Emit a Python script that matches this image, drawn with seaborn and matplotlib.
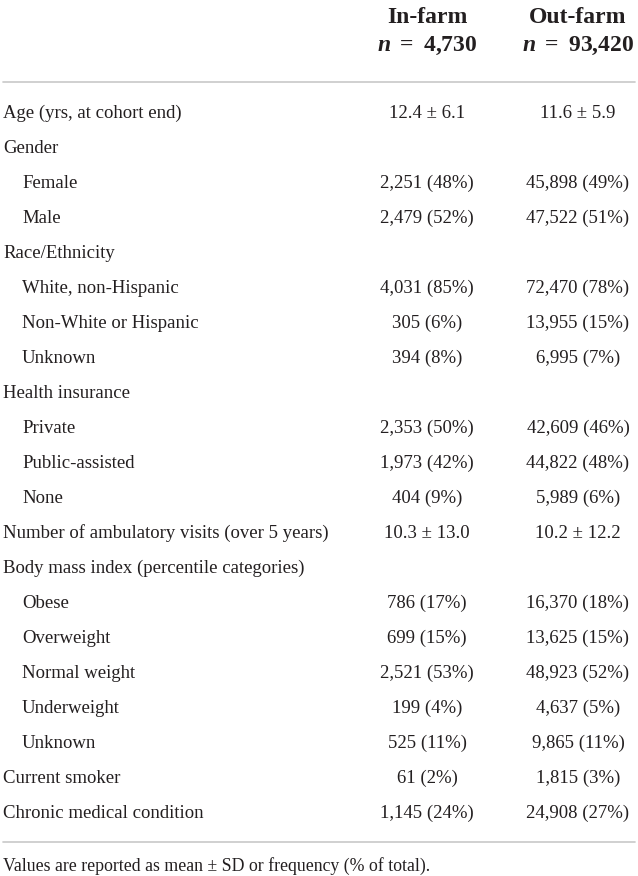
import matplotlib
matplotlib.use("Agg")
import matplotlib.pyplot as plt
import seaborn as sns

# table content
labels = ["Age (yrs, at cohort end)", "Gender", "Female", "Male", "Race/Ethnicity",
          "White, non-Hispanic", "Non-White or Hispanic", "Unknown", "Health insurance",
          "Private", "Public-assisted", "None", "Number of ambulatory visits (over 5 years)",
          "Body mass index (percentile categories)", "Obese", "Overweight", "Normal weight",
          "Underweight", "Unknown", "Current smoker", "Chronic medical condition"]
indent = [0, 0, 1, 1, 0, 1, 1, 1, 0, 1, 1, 1, 0, 0, 1, 1, 1, 1, 1, 0, 0]
in_farm = ["12.4 ± 6.1", "", "2,251 (48%)", "2,479 (52%)", "", "4,031 (85%)", "305 (6%)",
           "394 (8%)", "", "2,353 (50%)", "1,973 (42%)", "404 (9%)", "10.3 ± 13.0", "",
           "786 (17%)", "699 (15%)", "2,521 (53%)", "199 (4%)", "525 (11%)", "61 (2%)",
           "1,145 (24%)"]
out_farm = ["11.6 ± 5.9", "", "45,898 (49%)", "47,522 (51%)", "", "72,470 (78%)",
            "13,955 (15%)", "6,995 (7%)", "", "42,609 (46%)", "44,822 (48%)", "5,989 (6%)",
            "10.2 ± 12.2", "", "16,370 (18%)", "13,625 (15%)", "48,923 (52%)", "4,637 (5%)",
            "9,865 (11%)", "1,815 (3%)", "24,908 (27%)"]
col_titles = ["In-farm", "Out-farm"]
col_n = ["4,730", "93,420"]
footnote = "Values are reported as mean ± SD or frequency (% of total)."

sns.set_theme(style="white")
plt.rcParams["font.family"] = ["Liberation Serif", "DejaVu Serif"]
plt.rcParams["mathtext.fontset"] = "custom"
plt.rcParams["mathtext.rm"] = "Liberation Serif:bold"
plt.rcParams["mathtext.it"] = "Liberation Serif:italic:bold"

TXT = "#231f20"
RULE = "#c8c8c8"
W, H = 638, 876

fig = plt.figure(figsize=(W / 100, H / 100), dpi=100)
ax = fig.add_axes([0, 0, 1, 1])
ax.set_xlim(0, W)
ax.set_ylim(H, 0)
ax.axis("off")

col_x = [427, 578]
row0, pitch = 112, 35.0

# header (baseline aligned)
for x, t, n in zip(col_x, col_titles, col_n):
    ax.text(x, 23, t, ha="center", va="baseline", fontsize=17, fontweight="bold", color=TXT)
    ax.text(x, 51, f"$n\\ =\\ ${n}", ha="center", va="baseline", fontsize=17,
            fontweight="bold", color=TXT)

ax.plot([3, 635], [82, 82], color=RULE, lw=1.2)

for i, (lab, ind, a, b) in enumerate(zip(labels, indent, in_farm, out_farm)):
    y = row0 + i * pitch + 6
    ax.text(3 + 19 * ind, y, lab, ha="left", va="baseline", fontsize=13.5, color=TXT)
    ax.text(col_x[0], y, a, ha="center", va="baseline", fontsize=13.5, color=TXT)
    ax.text(col_x[1], y, b, ha="center", va="baseline", fontsize=13.5, color=TXT)

ax.plot([3, 635], [842, 842], color=RULE, lw=1.2)
ax.text(3, 871, footnote, ha="left", va="baseline", fontsize=12.8, color=TXT)

fig.savefig("out.png", dpi=100)
